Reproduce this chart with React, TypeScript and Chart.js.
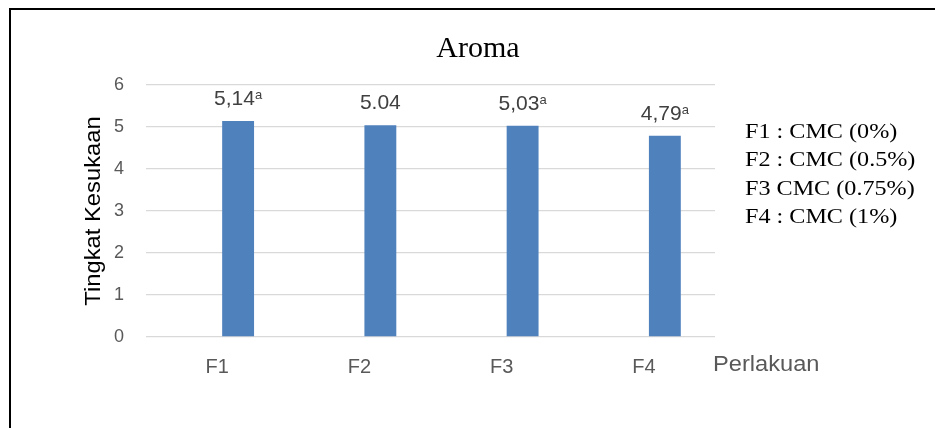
import React, { useEffect, useRef } from "react";
import { Chart, registerables } from "chart.js";

Chart.register(...registerables);

const categories = ["F1", "F2", "F3", "F4"];
// first (empty) series of the original clustered chart, second series holds the scores
const series1Values: (number | null)[] = [null, null, null, null];
const values = [5.14, 5.04, 5.03, 4.79];
const valueLabels = ["5,14", "5.04", "5,03", "4,79"];
const superscripts = ["a", "", "a", "a"];
const yMin = 0;
const yMax = 6;
const yStep = 1;
const legendLines = ["F1 : CMC (0%)", "F2 : CMC (0.5%)", "F3 CMC (0.75%)", "F4 : CMC (1%)"];
const chartTitle = "Aroma";
const yTitle = "Tingkat Kesukaan";
const xTitle = "Perlakuan";

const SANS = "'Liberation Sans', Arial, sans-serif";
const SERIF = "'Liberation Serif', 'Times New Roman', serif";

const decorPlugin = {
  id: "decor",
  afterDraw(chart: any) {
    const ctx = chart.ctx as CanvasRenderingContext2D;
    const area = chart.chartArea;
    ctx.save();
    // outer frame
    ctx.strokeStyle = "#000";
    ctx.lineWidth = 2;
    ctx.beginPath();
    ctx.moveTo(940, 9);
    ctx.lineTo(10, 9);
    ctx.lineTo(10, 440);
    ctx.stroke();

    // title
    ctx.fillStyle = "#000";
    ctx.font = `30px ${SERIF}`;
    ctx.textAlign = "center";
    ctx.textBaseline = "alphabetic";
    ctx.fillText(chartTitle, 478, 57);

    // y title
    ctx.save();
    ctx.translate(100, 211);
    ctx.rotate(-Math.PI / 2);
    ctx.scale(1.08, 1);
    ctx.font = `22px ${SANS}`;
    ctx.fillStyle = "#000";
    ctx.textAlign = "center";
    ctx.textBaseline = "alphabetic";
    ctx.fillText(yTitle, 0, 0);
    ctx.restore();

    // x title
    ctx.save();
    ctx.translate(area.right - 2, 371);
    ctx.scale(1.1, 1);
    ctx.font = `21.5px ${SANS}`;
    ctx.fillStyle = "#595959";
    ctx.textAlign = "left";
    ctx.fillText(xTitle, 0, 0);
    ctx.restore();

    // legend text
    ctx.save();
    ctx.translate(745, 138);
    ctx.scale(1.15, 1);
    ctx.font = `21px ${SERIF}`;
    ctx.fillStyle = "#000";
    ctx.textAlign = "left";
    legendLines.forEach((t, i) => {
      ctx.fillText(t, 0, i * 28.4);
    });
    ctx.restore();

    // data labels
    const meta = chart.getDatasetMeta(1);
    meta.data.forEach((bar: any, i: number) => {
      const main = valueLabels[i];
      const sup = superscripts[i];
      ctx.font = `21px ${SANS}`;
      const wMain = ctx.measureText(main).width;
      ctx.font = `13px ${SANS}`;
      const wSup = sup ? ctx.measureText(sup).width : 0;
      const total = wMain + wSup;
      const x0 = bar.x - total / 2;
      const base = bar.y - 16;
      ctx.fillStyle = "#404040";
      ctx.textAlign = "left";
      ctx.font = `21px ${SANS}`;
      ctx.fillText(main, x0, base);
      if (sup) {
        ctx.font = `13px ${SANS}`;
        ctx.fillText(sup, x0 + wMain, base - 6);
      }
    });
    ctx.restore();
  },
};

export default function App() {
  const ref = useRef<HTMLCanvasElement | null>(null);
  useEffect(() => {
    if (!ref.current) return;
    const chart = new Chart(ref.current, {
      type: "bar",
      data: {
        labels: categories,
        datasets: [
          {
            data: series1Values,
            backgroundColor: "#c0504d",
            borderWidth: 0,
            barPercentage: 0.76,
            categoryPercentage: 0.59,
          },
          {
            data: values,
            backgroundColor: "#4f81bd",
            borderWidth: 0,
            barPercentage: 0.76,
            categoryPercentage: 0.59,
          },
        ],
      },
      options: {
        responsive: false,
        animation: false,
        devicePixelRatio: 1,
        layout: { padding: { left: 0, right: 220, top: 85, bottom: 0 } },
        plugins: {
          legend: { display: false },
          title: { display: false },
          tooltip: { enabled: false },
        },
        scales: {
          x: {
            grid: { display: false, drawTicks: false },
            border: { display: false },
            ticks: {
              color: "#595959",
              font: { family: SANS, size: 20 },
              padding: 18,
            },
            afterFit: (s: any) => {
              s.height = 91;
            },
          },
          y: {
            min: yMin,
            max: yMax,
            grid: { color: "#d9d9d9", lineWidth: 1.3, drawTicks: false },
            border: { display: false },
            ticks: {
              stepSize: yStep,
              color: "#595959",
              font: { family: SANS, size: 18 },
              padding: 22,
            },
            afterFit: (s: any) => {
              s.width = 146;
            },
          },
        },
      },
      plugins: [decorPlugin],
    });
    return () => chart.destroy();
  }, []);
  return (
    <div style={{ position: "absolute", left: 0, top: 0, width: 935, height: 428, background: "#fff" }}>
      <canvas ref={ref} width={935} height={428} style={{ display: "block" }} />
    </div>
  );
}
